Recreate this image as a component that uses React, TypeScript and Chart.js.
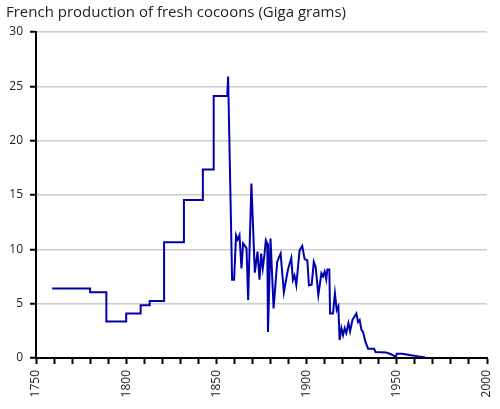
import React, { useEffect, useRef } from "react";
import { Chart, registerables } from "chart.js";

Chart.register(...registerables);

const titleText = "French production of fresh cocoons (Giga grams)";

// Years (x) and production in Gg (y) (steps are period averages)
const years: number[] = [
  1759, 1780, 1780, 1789, 1789, 1800, 1800, 1808, 1808, 1813, 1813, 1821, 1821, 1832, 1832, 1842.5, 1842.5, 1848.5, 1848.5, 1856,
  1856.5, 1858.7, 1859.8, 1860.9, 1861.8, 1862.8, 1863.9, 1864.8, 1866.1, 1866.7, 1867.6, 1869.4, 1871.3, 1872.8, 1873.9, 1874.8,
  1875.7, 1876.7, 1877.4, 1878.2, 1878.6, 1880, 1881.7, 1883.7, 1885.6, 1887.4, 1889.6, 1891.5, 1892.4, 1893.3, 1894.3, 1896.1,
  1897.6, 1898.9, 1900.4, 1901.3, 1902.8, 1904, 1905, 1906.5, 1908.2, 1909.1, 1910, 1910.9, 1911.5, 1912.6, 1913, 1914.6,
  1915.7, 1916.7, 1917.6, 1918.3, 1919.3, 1920.2, 1921.1, 1922, 1923.2, 1924.1, 1925.4, 1926.5, 1927.6, 1928.5, 1929.4, 1930.4,
  1931.3, 1932.6, 1934.1, 1937.4, 1938.2, 1944.2, 1946.7, 1949.4, 1950, 1953, 1957.8, 1962, 1965.6,
];
const production: number[] = [
  6.4, 6.4, 6.05, 6.05, 3.35, 3.35, 4.1, 4.1, 4.85, 4.85, 5.25, 5.25, 10.65, 10.65, 14.55, 14.55, 17.35, 17.35, 24.1, 24.1,
  25.9, 7.2, 7.2, 11.3, 10.9, 11.3, 8.25, 10.55, 10.25, 10.1, 5.35, 16.05, 7.85, 9.8, 7.2, 9.6,
  8.25, 9.6, 10.85, 10.55, 2.4, 11.0, 4.57, 8.86, 9.6, 6.05, 8.1, 9.2, 7.2, 7.6, 6.7, 9.9,
  10.3, 9.1, 9.0, 6.7, 6.75, 8.85, 8.4, 5.8, 7.8, 7.5, 7.95, 7.25, 8.15, 8.15, 4.1, 4.1,
  5.95, 4.4, 4.75, 1.65, 2.75, 2.1, 2.75, 2.3, 3.2, 2.45, 3.5, 3.8, 4.1, 3.3, 3.5, 2.6,
  2.4, 1.5, 0.85, 0.85, 0.55, 0.5, 0.35, 0.12, 0.38, 0.38, 0.25, 0.15, 0.08,
];

const xMin = 1750;
const xMax = 2000;
const xStep = 10;
const xLabelEvery = 50;
const yMin = 0;
const yMax = 30;
const yStep = 5;

export default function App() {
  const ref = useRef<HTMLCanvasElement | null>(null);

  useEffect(() => {
    document.body.style.margin = "0";
    if (!ref.current) return;
    const points = years.map((x, i) => ({ x, y: production[i] }));
    const chart = new Chart(ref.current, {
      type: "line",
      data: {
        datasets: [
          {
            data: points,
            borderColor: "#0000b0",
            borderWidth: 2,
            pointRadius: 0,
            tension: 0,
            fill: false,
          },
        ],
      },
      options: {
        animation: false,
        responsive: true,
        maintainAspectRatio: false,
        layout: { padding: { left: 6, right: 13, top: 0, bottom: 0 } },
        plugins: {
          legend: { display: false },
          tooltip: { enabled: false },
          title: {
            display: true,
            text: titleText,
            align: "start",
            color: "#222",
            font: { family: "'Open Sans'", size: 15, weight: "normal" },
            padding: { top: 4, bottom: 10 },
          },
        },
        scales: {
          x: {
            type: "linear",
            min: xMin,
            max: xMax,
            afterFit: (s: any) => {
              s.height = 51;
              s.paddingLeft = 0;
              s.paddingRight = 0;
            },
            afterBuildTicks: (s: any) => {
              const t = [];
              for (let v = xMin; v <= xMax; v += xStep) t.push({ value: v });
              s.ticks = t;
            },
            ticks: {
              autoSkip: false,
              maxRotation: 90,
              minRotation: 90,
              padding: 6,
              color: "#222",
              font: { family: "'Open Sans'", size: 12 },
              callback: (v: any) => (Number(v) % xLabelEvery === 0 ? String(v) : ""),
            },
            grid: {
              drawOnChartArea: false,
              drawTicks: true,
              tickLength: 6,
              tickColor: "#000",
              tickWidth: 2,
            },
            border: { display: true, color: "#000", width: 2 },
          },
          y: {
            type: "linear",
            min: yMin,
            max: yMax,
            afterFit: (s: any) => {
              s.width = 30;
            },
            ticks: {
              stepSize: yStep,
              padding: 7,
              color: "#222",
              font: { family: "'Open Sans'", size: 12 },
            },
            grid: {
              color: "#cccccc",
              lineWidth: 1.5,
              drawTicks: true,
              tickLength: 6,
              tickColor: "#000",
              tickWidth: 2,
            },
            border: { display: true, color: "#000", width: 2 },
          },
        },
      },
    });
    return () => chart.destroy();
  }, []);

  return (
    <div style={{ position: "relative", width: 500, height: 409 }}>
      <canvas ref={ref} />
    </div>
  );
}
